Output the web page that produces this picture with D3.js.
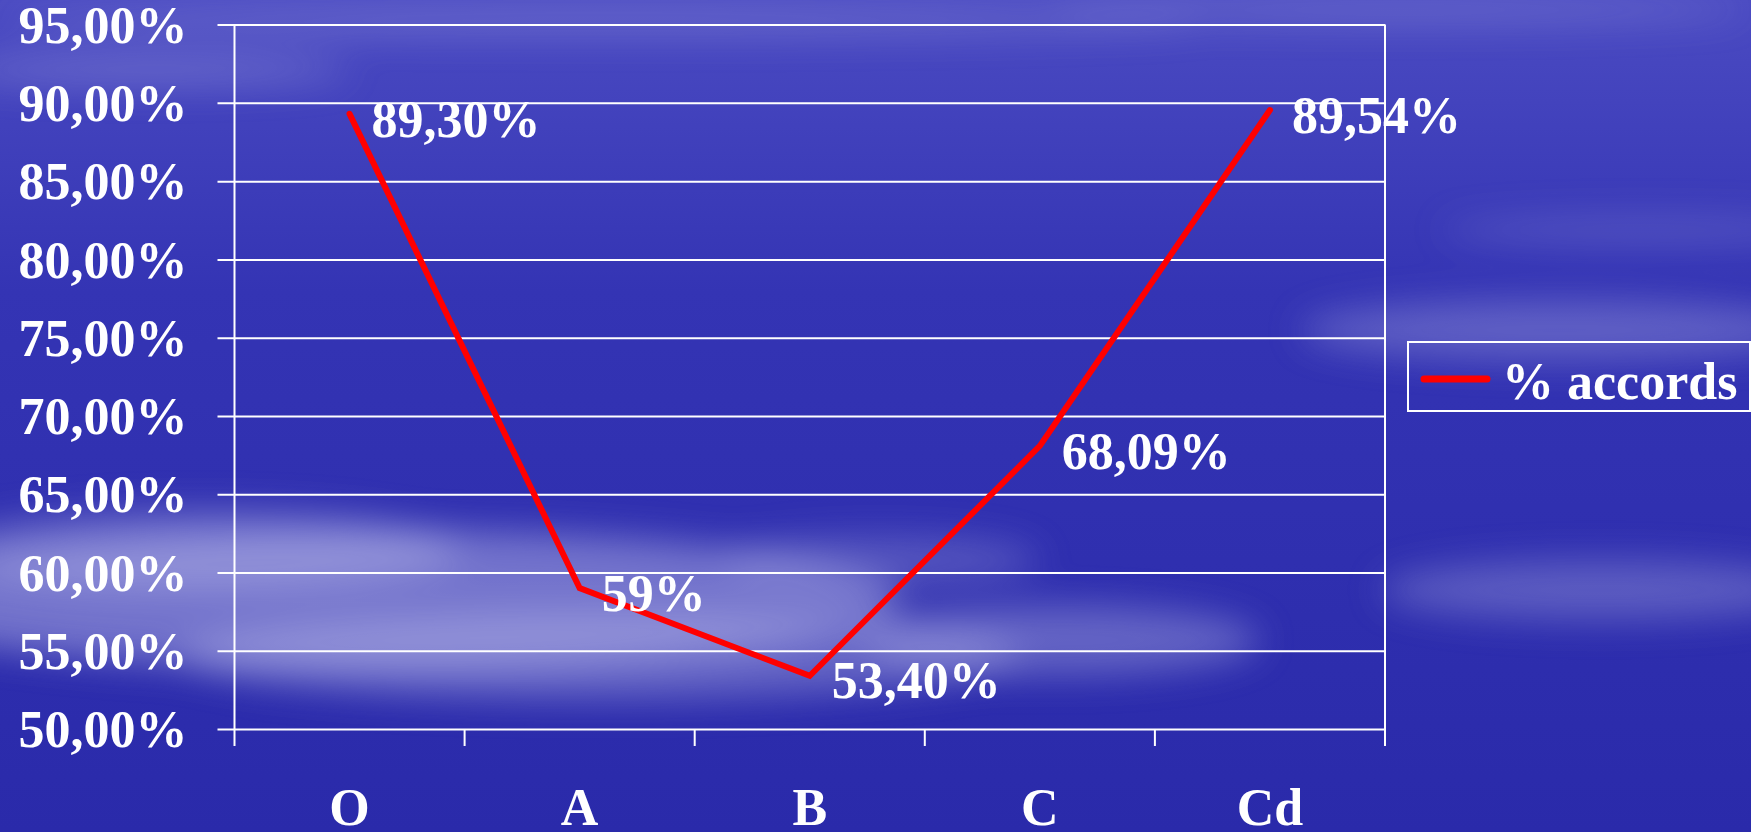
<!DOCTYPE html>
<html>
<head>
<meta charset="utf-8">
<script src="https://cdn.jsdelivr.net/npm/d3@7"></script>
<style>
  html, body { margin: 0; padding: 0; background: #2f2fae; overflow: hidden; }
  svg { display: block; }
  text { font-family: "Liberation Serif", "Times New Roman", serif; font-weight: bold; fill: #fff; }
</style>
</head>
<body>
<div id="chart"></div>
<script>
// data
var categories = ["O", "A", "B", "C", "Cd"];
var accords = [89.30, 59, 53.40, 68.09, 89.54];
var pointLabels = ["89,30%", "59%", "53,40%", "68,09%", "89,54%"];
var yTicks = [50, 55, 60, 65, 70, 75, 80, 85, 90, 95];
var seriesName = "% accords";

// background streaks (decor only)
var clouds = [
    {cx: 380, cy: 600, rx: 520, ry: 70, o: 0.45},
    {cx: 600, cy: 655, rx: 420, ry: 45, o: 0.35},
    {cx: 200, cy: 550, rx: 260, ry: 40, o: 0.35},
    {cx: 1060, cy: 640, rx: 200, ry: 35, o: 0.35},
    {cx: 880, cy: 560, rx: 160, ry: 25, o: 0.25},
    {cx: 1560, cy: 330, rx: 260, ry: 30, o: 0.3},
    {cx: 1600, cy: 590, rx: 220, ry: 30, o: 0.3},
    {cx: 1640, cy: 230, rx: 200, ry: 14, o: 0.2},
    {cx: 600, cy: 20, rx: 600, ry: 14, o: 0.25},
    {cx: 150, cy: 70, rx: 200, ry: 14, o: 0.3},
    {cx: 1400, cy: 10, rx: 350, ry: 12, o: 0.25}
];

(function(){
    var W = 1751, H = 832;
    var plotL = 234.5, plotR = 1385, plotT = 24.6, plotB = 729;
    var tickLen = 17;
    var fontSize = "52px";

    var svg = d3.select("#chart").append("svg")
	.attr("width", W)
	.attr("height", H);

    var defs = svg.append("defs");
    var grad = defs.append("linearGradient")
	.attr("id", "bg").attr("x1", 0).attr("y1", 0).attr("x2", 0).attr("y2", 1);
    grad.append("stop").attr("offset", "0%").attr("stop-color", "#4b4bc2");
    grad.append("stop").attr("offset", "35%").attr("stop-color", "#3434b4");
    grad.append("stop").attr("offset", "100%").attr("stop-color", "#2a2aaa");
    defs.append("filter").attr("id", "blur")
	.attr("x", "-50%").attr("y", "-100%").attr("width", "200%").attr("height", "300%")
	.append("feGaussianBlur").attr("stdDeviation", 18);

    svg.append("rect").attr("width", W).attr("height", H).attr("fill", "url(#bg)");
    svg.append("g").attr("filter", "url(#blur)")
	.selectAll("ellipse").data(clouds).enter().append("ellipse")
	.attr("cx", function(d){ return d.cx; })
	.attr("cy", function(d){ return d.cy; })
	.attr("rx", function(d){ return d.rx; })
	.attr("ry", function(d){ return d.ry; })
	.attr("fill", "#c8c8f0")
	.attr("opacity", function(d){ return d.o; });

    // scales
    var x = d3.scaleBand().domain(categories).range([plotL, plotR]).padding(0);
    var y = d3.scaleLinear().domain([50, 95]).range([plotB, plotT]);

    // y axis + gridlines
    var yAxis = d3.axisLeft(y)
	.tickValues(yTicks)
	.tickSize(plotR - plotL + tickLen)
	.tickPadding(30)
	.tickFormat(function(d){ return d3.format(".2f")(d).replace(".", ",") + "%"; });

    var gy = svg.append("g")
	.attr("transform", "translate(" + plotR + ",0)")
	.call(yAxis);
    gy.select(".domain").remove();
    gy.selectAll(".tick line").attr("stroke", "#fff").attr("stroke-width", 2);
    gy.selectAll(".tick text")
	.attr("fill", "#fff")
	.style("font-size", fontSize)
	.style("font-family", "'Liberation Serif', 'Times New Roman', serif")
	.style("font-weight", "bold")
	.attr("dy", "0.34em");

    // vertical frame lines and x ticks at band edges
    var edges = categories.map(function(c){ return x(c); }).concat([plotR]);
    svg.append("g").selectAll("line").data(edges).enter().append("line")
	.attr("x1", function(d){ return d; })
	.attr("x2", function(d){ return d; })
	.attr("y1", function(d, i){ return (i === 0 || i === edges.length - 1) ? plotT : plotB; })
	.attr("y2", plotB + tickLen)
	.attr("stroke", "#fff")
	.attr("stroke-width", 2);

    // x labels
    var xAxis = d3.axisBottom(x).tickSize(0).tickPadding(0);
    var gx = svg.append("g")
	.attr("transform", "translate(0," + plotB + ")")
	.call(xAxis);
    gx.select(".domain").remove();
    gx.selectAll(".tick text")
	.attr("y", 96)
	.attr("dy", 0)
	.attr("fill", "#fff")
	.style("font-size", fontSize)
	.style("font-family", "'Liberation Serif', 'Times New Roman', serif")
	.style("font-weight", "bold");

    // line
    var cx = function(d, i){ return x(categories[i]) + x.bandwidth() / 2; };
    var line = d3.line()
	.x(cx)
	.y(function(d){ return y(d); });

    svg.append("path")
	.datum(accords)
	.attr("d", line)
	.attr("fill", "none")
	.attr("stroke", "#ff0000")
	.attr("stroke-width", 6)
	.attr("stroke-linejoin", "miter")
	.attr("stroke-linecap", "round");

    // point labels
    svg.append("g").selectAll("text").data(accords).enter().append("text")
	.attr("x", function(d, i){ return cx(d, i) + 22; })
	.attr("y", function(d){ return y(d) + 5; })
	.attr("dy", "0.34em")
	.style("font-size", fontSize)
	.text(function(d, i){ return pointLabels[i]; });

    // legend
    var lg = svg.append("g").attr("transform", "translate(1408,342)");
    lg.append("rect")
	.attr("width", 342).attr("height", 69)
	.attr("fill", "none")
	.attr("stroke", "#fff")
	.attr("stroke-width", 2);
    lg.append("line")
	.attr("x1", 16).attr("x2", 79)
	.attr("y1", 37).attr("y2", 37)
	.attr("stroke", "#ff0000")
	.attr("stroke-width", 7)
	.attr("stroke-linecap", "round");
    lg.append("text")
	.attr("x", 94).attr("y", 57)
	.style("font-size", fontSize)
	.text(seriesName);
})();
</script>
</body>
</html>
